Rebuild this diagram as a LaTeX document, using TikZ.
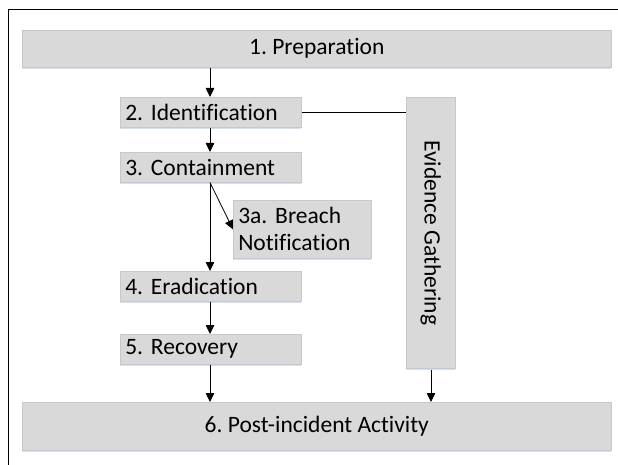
\documentclass[tikz,border=0pt]{standalone}
\usepackage{fontspec}
\setmainfont{Carlito}[RawFeature={-liga;-clig;-dlig}]
\frenchspacing
\usetikzlibrary{arrows.meta,shadows}
\definecolor{boxgray}{HTML}{D9D9D9}
\definecolor{boxedge}{HTML}{C8C8C8}
\definecolor{shadowblue}{HTML}{D2E2F2}
\tikzset{
  box/.style={rectangle, fill=boxgray, draw=boxedge, line width=0.6pt,
    drop shadow={shadow xshift=0pt, shadow yshift=-1.8pt, fill=shadowblue, opacity=1},
    font=\fontsize{23.5}{27}\selectfont, inner xsep=5pt, inner ysep=0pt, anchor=north west},
  lbox/.style={box, minimum height=30pt, text width=171pt, align=left},
  conn/.style={line width=0.8pt, -{Triangle[length=9pt,width=8.5pt]}},
  plain/.style={line width=0.8pt}
}
\begin{document}
\begin{tikzpicture}[x=1pt,y=-1pt]
\useasboundingbox (0,0) rectangle (618,465);
\draw[line width=0.8pt] (8,465) -- (8,9) -- (618,9);
\node[box, minimum width=589pt, minimum height=37pt] (prep) at (22,30) {1. Preparation};
\node[lbox] (ident) at (120,97) {2. Identification};
\node[lbox] (cont) at (120,152) {3. Containment};
\node[box, minimum height=58pt, text width=128pt, align=left] (breach) at (233,200) {3a. Breach\\Notification};
\node[lbox] (erad) at (120,271) {4. Eradication};
\node[lbox] (recov) at (120,334) {5. Recovery};
\node[box, minimum width=49pt, minimum height=271pt, inner xsep=0pt] (evid) at (406,97) {};
\node[rotate=-90, font=\fontsize{23.5}{27}\selectfont] (evidtxt) at (evid.center) {Evidence Gathering};
\node[box, minimum width=589pt, minimum height=48pt] (post) at (22,402) {6. Post-incident Activity};
\coordinate (a1) at (210,67);
\draw[conn] (prep.south -| a1) -- (ident.north -| a1);
\draw[conn] (ident.south -| a1) -- (cont.north -| a1);
\draw[conn] (cont.south -| a1) -- (erad.north -| a1);
\draw[conn] (cont.south -| a1) -- (breach.west);
\draw[conn] (erad.south -| a1) -- (recov.north -| a1);
\draw[conn] (recov.south -| a1) -- (post.north -| a1);
\draw[plain] (ident.east) -- (ident.east -| evid.west);
\coordinate (ev) at (431,370);
\draw[conn] (ev) -- (post.north -| ev);
\end{tikzpicture}
\end{document}
